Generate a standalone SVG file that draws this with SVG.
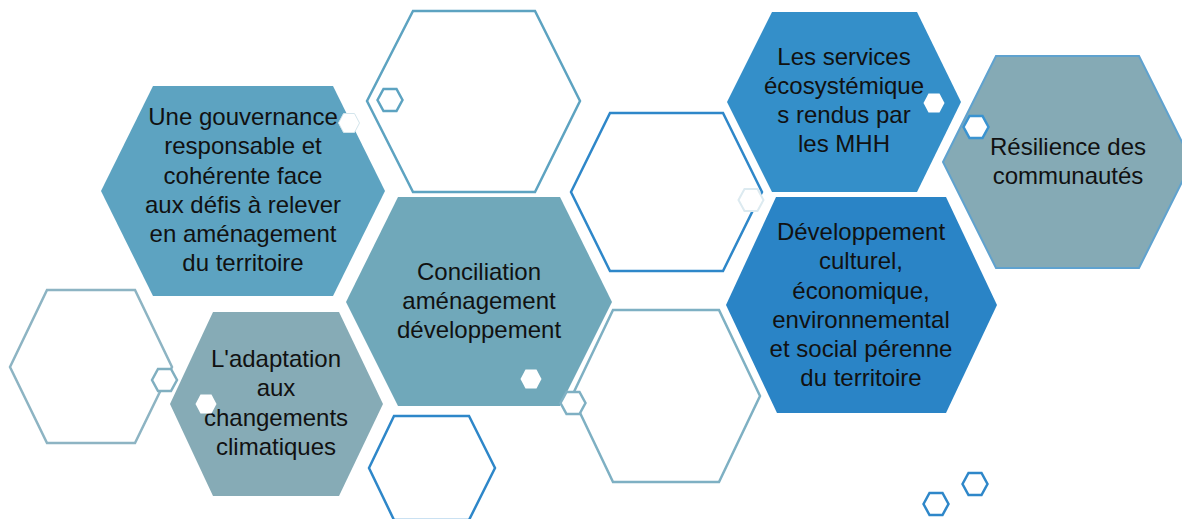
<svg xmlns="http://www.w3.org/2000/svg" xmlns:xlink="http://www.w3.org/1999/xlink" width="1182" height="519" viewBox="0 0 1182 519">
<style>
.lbl{font-family:"Liberation Sans",Arial,sans-serif;font-size:24px;fill:#111111;text-anchor:middle}
.hollow{fill:none;stroke-width:2.5}
.sm{fill:#ffffff}
</style>
<defs>
<polygon id="sh" points="-12.5,0 -6.5,-11 6.5,-11 12.5,0 6.5,11 -6.5,11"/>
<polygon id="shs" points="-10.5,0 -5.5,-9.5 5.5,-9.5 10.5,0 5.5,9.5 -5.5,9.5"/>
</defs>
<rect width="1182" height="519" fill="#ffffff"/>
<g id="decor-hollow">
<polygon class="hollow" stroke="#5DA3C1" points="367,101 413,11 535,11 580,101 535,192 413,192"/>
<polygon class="hollow" stroke="#2E87C9" points="571,192 610,113 723,113 762,192 723,271 610,271"/>
<polygon class="hollow" stroke="#7EB0C3" points="572,396 613,310 719,310 760,396 719,482 613,482"/>
<polygon class="hollow" stroke="#8DB4C3" points="10,367 47,290 135,290 172,367 135,443 47,443"/>
<polygon class="hollow" stroke="#2E87C9" points="369,468 394,416 469,416 495,468 469,520 394,520"/>
</g>
<g id="node-gouvernance">
<polygon fill="#5DA3C1" points="101,191 153,86 333,86 385,191 333,296 153,296"/>
<text class="lbl"><tspan x="243" y="125">Une gouvernance</tspan><tspan x="243" y="154">responsable et</tspan><tspan x="243" y="183.5">cohérente face</tspan><tspan x="243" y="213">aux défis à relever</tspan><tspan x="243" y="242">en aménagement</tspan><tspan x="243" y="271">du territoire</tspan></text>
</g>
<g id="node-services">
<polygon fill="#348FC9" points="727,102 772,12 917,12 961,102 917,192 772,192"/>
<text class="lbl"><tspan x="844" y="65">Les services</tspan><tspan x="844" y="94">écosystémique</tspan><tspan x="844" y="123">s rendus par</tspan><tspan x="844" y="152">les MHH</tspan></text>
</g>
<g id="node-resilience">
<polygon fill="#85AAB5" stroke="#5FA2CF" stroke-width="2" points="943,162 996,56 1139,56 1192,162 1139,268 996,268"/>
<text class="lbl"><tspan x="1068" y="155">Résilience des</tspan><tspan x="1068" y="184">communautés</tspan></text>
</g>
<g id="node-conciliation">
<polygon fill="#70A8BA" points="346,302 398,197 560,197 612,302 560,406 398,406"/>
<text class="lbl"><tspan x="479" y="280">Conciliation</tspan><tspan x="479" y="309">aménagement</tspan><tspan x="479" y="338">développement</tspan></text>
</g>
<g id="node-developpement">
<polygon fill="#2A84C6" points="726,305 776,197 946,197 997,305 946,413 777,413"/>
<text class="lbl"><tspan x="861" y="240">Développement</tspan><tspan x="861" y="269">culturel,</tspan><tspan x="861" y="299">économique,</tspan><tspan x="861" y="328">environnemental</tspan><tspan x="861" y="357">et social pérenne</tspan><tspan x="861" y="386">du territoire</tspan></text>
</g>
<g id="node-adaptation">
<polygon fill="#86ABB6" points="170,404 213,312 339,312 383,404 339,496 213,496"/>
<text class="lbl"><tspan x="276" y="367">L'adaptation</tspan><tspan x="276" y="396">aux</tspan><tspan x="276" y="426">changements</tspan><tspan x="276" y="455">climatiques</tspan></text>
</g>
<g id="decor-small">
<use xlink:href="#sh" class="sm" stroke="#5DA3C1" stroke-width="2.5" x="390" y="100"/>
<use xlink:href="#shs" class="sm" stroke="#D3E5EC" stroke-width="1" x="349" y="123"/>
<use xlink:href="#shs" class="sm" x="934" y="103"/>
<use xlink:href="#sh" class="sm" stroke="#3A93D0" stroke-width="2.5" x="976" y="127"/>
<use xlink:href="#sh" class="sm" stroke="#DCEAF0" stroke-width="2" x="751" y="200"/>
<use xlink:href="#sh" class="sm" stroke="#7FB0C3" stroke-width="2.5" x="573" y="403"/>
<use xlink:href="#sh" class="sm" stroke="#80AFC0" stroke-width="2.5" x="164.5" y="380"/>
<use xlink:href="#shs" class="sm" x="206" y="404"/>
<use xlink:href="#shs" class="sm" x="531" y="379"/>
<use xlink:href="#sh" class="sm" stroke="#2E87C9" stroke-width="2.5" x="975" y="484"/>
<use xlink:href="#sh" class="sm" stroke="#2E87C9" stroke-width="2.5" x="936" y="504"/>
</g>
<g id="connectors"></g>
</svg>
